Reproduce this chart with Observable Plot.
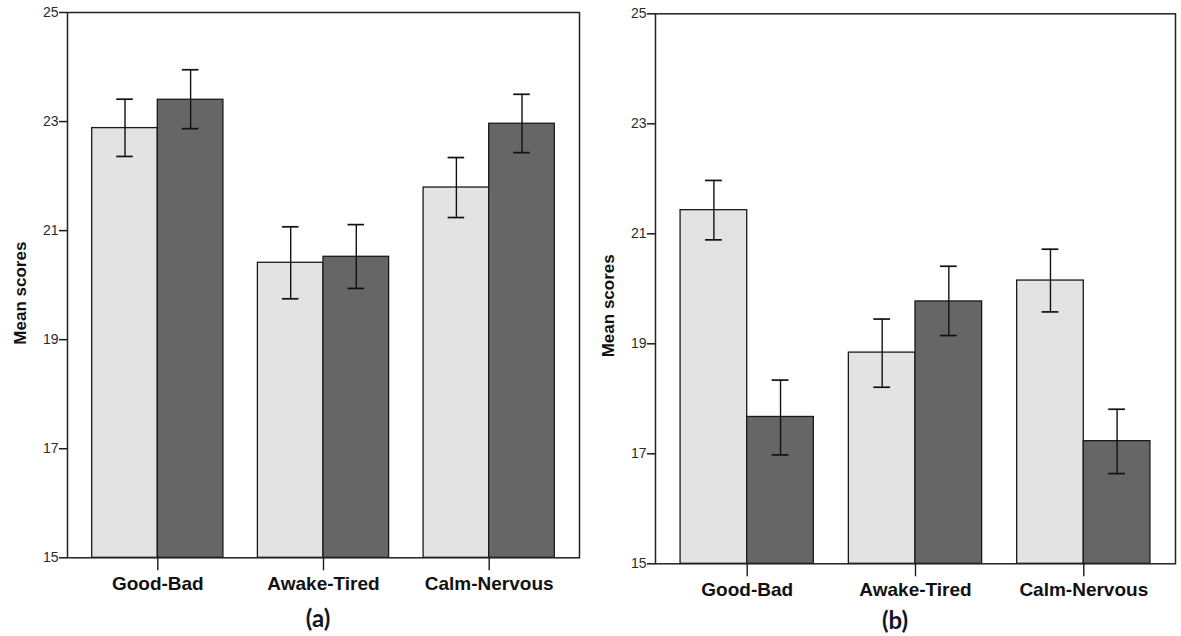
<!DOCTYPE html>
<html><head><meta charset="utf-8">
<script src="https://cdn.jsdelivr.net/npm/d3@7"></script>
<script src="https://cdn.jsdelivr.net/npm/@observablehq/plot@0.6"></script>
<style>
body{margin:0;background:#fff;}
#wrap{position:relative;width:1181px;height:636px;overflow:hidden;background:#fff;}
.panel{position:absolute;top:0;}
.cap{position:absolute;font-family:Lato,"Open Sans",sans-serif;font-weight:bold;font-size:24px;color:#141426;transform:translateX(-50%);line-height:1;}
</style></head><body><div id="wrap"></div>
<script>
// ---- data ----
const categories = ["Good-Bad", "Awake-Tired", "Calm-Nervous"];
const series = ["light", "dark"];
const yTicks = [15, 17, 19, 21, 23, 25];
const yLabel = "Mean scores";

// panel (a)
const aLight   = [22.88, 20.41, 21.79];
const aLightLo = [22.36, 19.75, 21.24];
const aLightHi = [23.41, 21.07, 22.34];
const aDark    = [23.40, 20.52, 22.96];
const aDarkLo  = [22.87, 19.94, 22.43];
const aDarkHi  = [23.95, 21.11, 23.50];

// panel (b)
const bLight   = [21.43, 18.84, 20.15];
const bLightLo = [20.89, 18.21, 19.58];
const bLightHi = [21.97, 19.45, 20.72];
const bDark    = [17.67, 19.77, 17.23];
const bDarkLo  = [16.98, 19.15, 16.64];
const bDarkHi  = [18.34, 20.41, 17.81];

// ---- drawing ----
const HALF = 0.396;   // width of one bar in category units
const CAP = 0.05;     // half width of error-bar caps
const colors = ["#e3e3e3", "#666666"];

function rowsFor(vals) {
  const rows = [];
  categories.forEach((c, i) => {
    series.forEach((s, k) => {
      rows.push({i, cat: c, s, k, value: vals[k][0][i], lo: vals[k][1][i], hi: vals[k][2][i]});
    });
  });
  return rows;
}
const x1 = d => d.i + (d.k - 1) * HALF;
const x2 = d => d.i + d.k * HALF;
const xc = d => d.i + (d.k - 0.5) * HALF;

function panel(rows, m) {
  return Plot.plot({
    width: m.width, height: m.height,
    marginLeft: m.left, marginRight: m.right, marginTop: m.top, marginBottom: m.bottom,
    style: {fontFamily: "'Liberation Sans', Arial, sans-serif", color: "#1a1a1a", background: "#fff"},
    x: {type: "linear", domain: [-0.545, categories.length - 1 + 0.545], axis: null},
    y: {domain: [yTicks[0], yTicks[yTicks.length - 1]], axis: null},
    color: {domain: series, range: colors},
    marks: [
      Plot.rectY(rows, {x1, x2, y1: yTicks[0], y2: "value", fill: "s", stroke: "#1a1a1a", strokeWidth: 1.3}),
      Plot.ruleX(rows, {x: xc, y1: "lo", y2: "hi", stroke: "#111", strokeWidth: 1.4}),
      Plot.ruleY(rows, {y: "hi", x1: d => xc(d) - CAP, x2: d => xc(d) + CAP, stroke: "#111", strokeWidth: 1.7}),
      Plot.ruleY(rows, {y: "lo", x1: d => xc(d) - CAP, x2: d => xc(d) + CAP, stroke: "#111", strokeWidth: 1.7}),
      Plot.frame({stroke: "#222", strokeWidth: 1.5}),
      Plot.axisY({ticks: yTicks, tickSize: 8, tickPadding: 1, fontSize: 14, fill: "#2a2a2a", label: null, strokeWidth: 1.5}),
      Plot.axisX({ticks: categories.map((c, i) => i), tickFormat: i => categories[i], tickSize: 13, tickPadding: 6,
                  fontSize: 19, fontWeight: "bold", fill: "#111", label: null, strokeWidth: 1.4}),
      Plot.text([yLabel], {frameAnchor: "left", textAnchor: "middle", rotate: -90, dx: m.labelDx, dy: m.labelDy,
                           fontSize: 17, fontWeight: "bold", fill: "#111"})
    ]
  });
}

const wrap = document.getElementById("wrap");

const pa = panel(rowsFor([[aLight, aLightLo, aLightHi], [aDark, aDarkLo, aDarkHi]]),
  {width: 590, height: 600, left: 67, right: 11, top: 12, bottom: 42.7, labelDx: -47, labelDy: 8});
pa.classList.add("panel"); pa.style.left = "0px";
wrap.appendChild(pa);

const pb = panel(rowsFor([[bLight, bLightLo, bLightHi], [bDark, bDarkLo, bDarkHi]]),
  {width: 591, height: 600, left: 65, right: 6, top: 13.3, bottom: 36.7, labelDx: -47, labelDy: 17});
pb.classList.add("panel"); pb.style.left = "590px";
wrap.appendChild(pb);

const capA = document.createElement("div");
capA.className = "cap"; capA.textContent = "(a)";
capA.style.left = "318px"; capA.style.top = "606px";
wrap.appendChild(capA);

const capB = document.createElement("div");
capB.className = "cap"; capB.textContent = "(b)";
capB.style.left = "895px"; capB.style.top = "608px";
wrap.appendChild(capB);
</script>
</body></html>
